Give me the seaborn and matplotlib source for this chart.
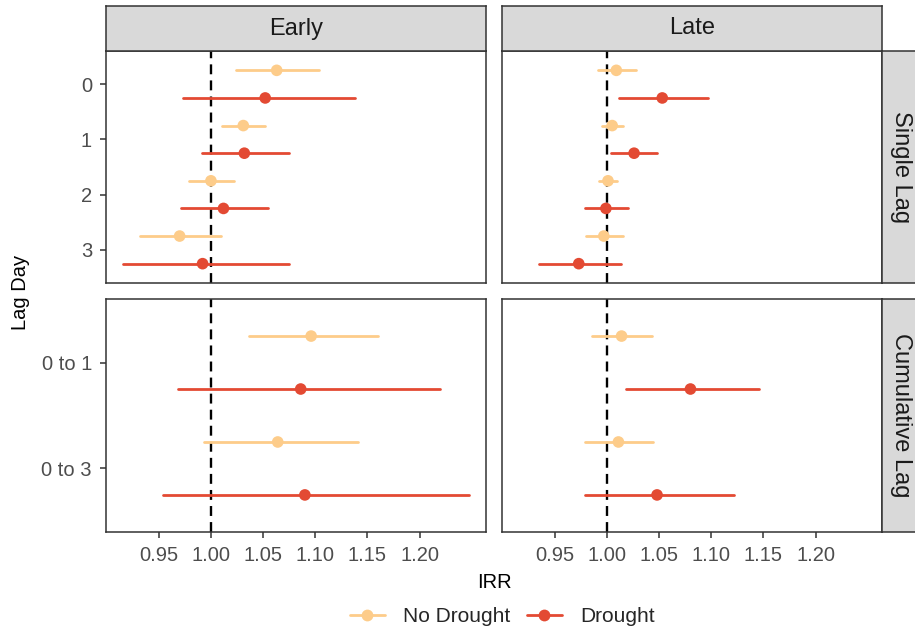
import pandas as pd
import numpy as np
import matplotlib
matplotlib.use("Agg")
import matplotlib.pyplot as plt
from matplotlib.lines import Line2D
import seaborn as sns

# Datos (IRR, limite inferior, limite superior)
lag_single = ["0", "1", "2", "3"]
lag_cum = ["0 to 1", "0 to 3"]
timings = ["Early", "Late"]
lag_types = ["Single Lag", "Cumulative Lag"]
drought_levels = ["No Drought", "Drought"]

early_single_nd_est = [1.063, 1.031, 1.000, 0.970]
early_single_nd_lo = [1.024, 1.011, 0.979, 0.932]
early_single_nd_hi = [1.104, 1.052, 1.022, 1.010]
early_single_d_est = [1.052, 1.032, 1.012, 0.992]
early_single_d_lo = [0.973, 0.991, 0.971, 0.916]
early_single_d_hi = [1.138, 1.075, 1.055, 1.075]

late_single_nd_est = [1.009, 1.005, 1.001, 0.997]
late_single_nd_lo = [0.991, 0.995, 0.992, 0.980]
late_single_nd_hi = [1.028, 1.015, 1.010, 1.015]
late_single_d_est = [1.053, 1.026, 0.999, 0.973]
late_single_d_lo = [1.012, 1.004, 0.979, 0.935]
late_single_d_hi = [1.097, 1.048, 1.020, 1.013]

early_cum_nd_est = [1.096, 1.064]
early_cum_nd_lo = [1.036, 0.993]
early_cum_nd_hi = [1.160, 1.141]
early_cum_d_est = [1.086, 1.090]
early_cum_d_lo = [0.968, 0.954]
early_cum_d_hi = [1.219, 1.247]

late_cum_nd_est = [1.014, 1.011]
late_cum_nd_lo = [0.986, 0.979]
late_cum_nd_hi = [1.043, 1.044]
late_cum_d_est = [1.080, 1.048]
late_cum_d_lo = [1.018, 0.979]
late_cum_d_hi = [1.146, 1.122]

colores = {"No Drought": "#FDCC8A", "Drought": "#E34A33"}

series = [
    ("Early", "Single Lag", lag_single, "No Drought", early_single_nd_est, early_single_nd_lo, early_single_nd_hi),
    ("Early", "Single Lag", lag_single, "Drought", early_single_d_est, early_single_d_lo, early_single_d_hi),
    ("Late", "Single Lag", lag_single, "No Drought", late_single_nd_est, late_single_nd_lo, late_single_nd_hi),
    ("Late", "Single Lag", lag_single, "Drought", late_single_d_est, late_single_d_lo, late_single_d_hi),
    ("Early", "Cumulative Lag", lag_cum, "No Drought", early_cum_nd_est, early_cum_nd_lo, early_cum_nd_hi),
    ("Early", "Cumulative Lag", lag_cum, "Drought", early_cum_d_est, early_cum_d_lo, early_cum_d_hi),
    ("Late", "Cumulative Lag", lag_cum, "No Drought", late_cum_nd_est, late_cum_nd_lo, late_cum_nd_hi),
    ("Late", "Cumulative Lag", lag_cum, "Drought", late_cum_d_est, late_cum_d_lo, late_cum_d_hi),
]

filas = []
for timing, tipo, lags, drought, est, lo, hi in series:
    for i, lag in enumerate(lags):
        filas.append({"timing": timing, "tipo": tipo, "lag": lag, "idx": i,
                      "drought": drought, "irr": est[i], "lo": lo[i], "hi": hi[i]})
df = pd.DataFrame(filas)
# posicion esquivada (dodge) dentro de cada categoria
df["ypos"] = df["idx"] + np.where(df["drought"] == "No Drought", -0.25, 0.25)
df["id"] = np.arange(len(df))

# formato largo para los intervalos
ci = pd.concat([df.assign(x=df["lo"]), df.assign(x=df["hi"])])

sns.set_theme(style="white")
plt.rcParams["font.family"] = ["Liberation Sans", "DejaVu Sans"]

W, H = 915, 632
fig = plt.figure(figsize=(W / 100, H / 100), dpi=100)

def px_axes(x0, y0, x1, y1):
    return fig.add_axes([x0 / W, 1 - y1 / H, (x1 - x0) / W, (y1 - y0) / H])

xmin = df["lo"].min()
xmax = df["hi"].max()
pad = (xmax - xmin) * 0.05
borde = "#333333"

cols_px = {"Early": (106, 486), "Late": (502, 882)}
rows_px = {"Single Lag": (51, 283), "Cumulative Lag": (299, 532)}

for timing in timings:
    x0, x1 = cols_px[timing]
    for tipo in lag_types:
        y0, y1 = rows_px[tipo]
        ax = px_axes(x0, y0, x1, y1)
        sub = df[(df["timing"] == timing) & (df["tipo"] == tipo)]
        sub_ci = ci[(ci["timing"] == timing) & (ci["tipo"] == tipo)]
        ax.axvline(1.0, color="black", ls=(0, (4.2, 2.6)), lw=1.7, zorder=1)
        sns.lineplot(data=sub_ci, x="x", y="ypos", hue="drought", units="id",
                     estimator=None, palette=colores, lw=2.0, legend=False, ax=ax, zorder=2)
        sns.scatterplot(data=sub, x="irr", y="ypos", hue="drought", palette=colores,
                        s=70, linewidth=0, legend=False, ax=ax, zorder=3)
        lags = lag_single if tipo == "Single Lag" else lag_cum
        ax.set_xlim(xmin - pad, xmax + pad)
        ax.set_ylim(len(lags) - 1 + 0.6, -0.6)
        ax.set_xlabel("")
        ax.set_ylabel("")
        ax.set_yticks(range(len(lags)))
        ax.set_xticks([0.95, 1.00, 1.05, 1.10, 1.15, 1.20])
        if timing == "Early":
            ax.set_yticklabels(lags)
            ax.tick_params(axis="y", left=True, length=4.3, width=1.1, color=borde,
                           labelsize=14.5, labelcolor="#4D4D4D", pad=5.8)
        else:
            ax.set_yticklabels([])
            ax.tick_params(axis="y", left=False)
        if tipo == "Cumulative Lag":
            ax.set_xticklabels(["%.2f" % v for v in ax.get_xticks()])
            ax.tick_params(axis="x", bottom=True, length=4.3, width=1.1, color=borde,
                           labelsize=14.5, labelcolor="#4D4D4D", pad=6)
        else:
            ax.set_xticklabels([])
            ax.tick_params(axis="x", bottom=False)
        for s in ax.spines.values():
            s.set_color(borde)
            s.set_linewidth(1.1)

        # tiras de faceta
        if tipo == "Single Lag":
            st = px_axes(x0, 6, x1, y0)
            st.set_facecolor("#D9D9D9")
            st.set_xticks([])
            st.set_yticks([])
            for s in st.spines.values():
                s.set_color(borde)
                s.set_linewidth(1.1)
            st.text(0.5, 0.5, timing, ha="center", va="center", fontsize=17,
                    color="#1A1A1A", transform=st.transAxes)
        if timing == "Late":
            st = px_axes(x1, y0, x1 + 45, y1)
            st.set_facecolor("#D9D9D9")
            st.set_xticks([])
            st.set_yticks([])
            for s in st.spines.values():
                s.set_color(borde)
                s.set_linewidth(1.1)
            st.text(0.42, 0.5, tipo, ha="center", va="center", fontsize=17,
                    color="#1A1A1A", rotation=-90, transform=st.transAxes)

fig.text(494 / W, 1 - 583 / H, "IRR", ha="center", va="center", fontsize=14.5, color="black")
fig.text(21 / W, 1 - 292 / H, "Lag Day", ha="center", va="center", fontsize=14.5,
         color="black", rotation=90)

handles = [Line2D([0], [0], color=colores[d], lw=2.0, marker="o", markersize=8.5,
                  markeredgewidth=0) for d in drought_levels]
fig.legend(handles, drought_levels, loc="center", bbox_to_anchor=(502 / W, 1 - 617 / H),
           ncol=2, frameon=False, fontsize=15, handlelength=1.7, columnspacing=0.8,
           handletextpad=0.85)

fig.savefig("out.png", dpi=100)
